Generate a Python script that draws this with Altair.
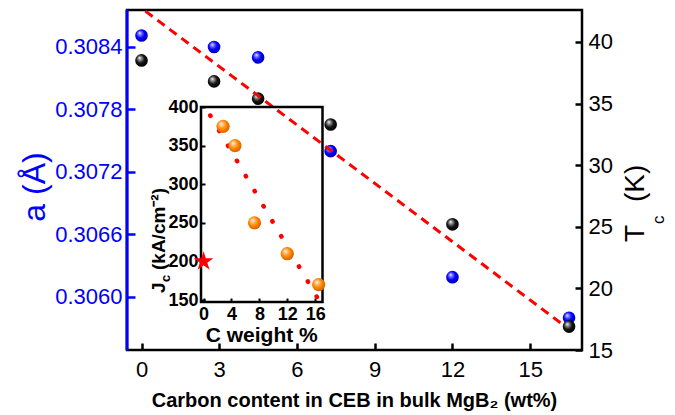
import altair as alt
import pandas as pd

# ---------------- data ----------------
carbon_wt = [0.0, 2.8, 4.5, 7.3, 12.0, 16.5]
lattice_a = [0.30851, 0.30840, 0.30830, 0.30740, 0.30619, 0.30580]
tc_k = [38.5, 36.8, 35.4, 33.3, 25.2, 16.9]
fit_carbon = [0.15, 16.3]
fit_tc = [42.5, 17.0]

inset_carbon = [2.8, 4.5, 7.3, 12.0, 16.5]
jc_vals = [375, 350, 250, 210, 170]
ref_carbon = [0.0]
ref_jc = [200]
inset_fit_carbon = [0.96, 16.25]
inset_fit_jc = [389, 154]

x_ticks = [0, 3, 6, 9, 12, 15]
a_ticks = [0.3060, 0.3066, 0.3072, 0.3078, 0.3084]
tc_ticks = [15, 20, 25, 30, 35, 40]
inset_x_ticks = [0, 4, 8, 12, 16]
inset_y_ticks = [150, 200, 250, 300, 350, 400]

x_domain = [-0.56, 17.0]
a_domain = [0.305491, 0.308755]
tc_domain = [15.0, 42.59]
inset_x_domain = [-0.37, 17.05]
inset_y_domain = [147.5, 400]

x_title = "Carbon content in CEB in bulk MgB₂ (wt%)"
a_title = "a (Å)"
tc_title = ["T", "c", "(K)"]
jc_title = ["J", "c", "(kA/cm⁻²)"]
inset_x_title = "C weight %"

# ---------------- layout ----------------
W, H = 455, 340
FONT = "Liberation Sans"
BLUE = "#0000ff"
RED = "#ff0000"

# inset placement inside the plot area (pixels)
inset_xr = [74, 195.5]
inset_yr = [292, 97]


def sphere(mid, body, dark):
    return alt.RadialGradient(
        gradient="radial",
        stops=[
            alt.GradientStop(color="#ffffff", offset=0),
            alt.GradientStop(color=mid, offset=0.2),
            alt.GradientStop(color=body, offset=0.55),
            alt.GradientStop(color=dark, offset=1),
        ],
        x1=0.35, y1=0.3, r1=0, x2=0.45, y2=0.45, r2=0.6,
    )


main_df = pd.DataFrame({"c": carbon_wt, "a": lattice_a, "tc": tc_k})
fit_df = pd.DataFrame({"c": fit_carbon, "tc": fit_tc})
inset_df = pd.DataFrame({"c": inset_carbon, "jc": jc_vals})
ref_df = pd.DataFrame({"c": ref_carbon, "jc": ref_jc})
ifit_df = pd.DataFrame({"c": inset_fit_carbon, "jc": inset_fit_jc})
frame_df = pd.DataFrame({"x0": [inset_x_domain[0]], "x1": [inset_x_domain[1]],
                         "y0": [inset_y_domain[0]], "y1": [inset_y_domain[1]]})

x_scale = alt.Scale(domain=x_domain, nice=False, zero=False)
x_axis = alt.Axis(orient="bottom", values=x_ticks, tickSize=7, offset=-7, tickWidth=2.5,
                  tickColor="black", labelFontSize=22, labelPadding=9, labelColor="black",
                  domain=False, grid=False, title=None, labelFont=FONT)
X = alt.X("c:Q", scale=x_scale, axis=x_axis)

a_axis = alt.Axis(orient="left", values=a_ticks, format=".4f", tickSize=8, offset=-8,
                  tickWidth=2.5, tickColor=BLUE, labelColor=BLUE, labelFontSize=22,
                  labelPadding=5, domain=False, grid=False, title=None, labelFont=FONT)
tc_axis = alt.Axis(orient="right", values=tc_ticks, tickSize=7, offset=-7, tickWidth=2.5,
                   tickColor="black", labelColor="black", labelFontSize=22, labelPadding=6,
                   domain=False, grid=False, title=None, labelFont=FONT)

a_pts = alt.Chart(main_df).mark_circle(
    size=160, opacity=1, fill=sphere("#8080ff", "#0000ff", "#0000b0")
).encode(X, y=alt.Y("a:Q", scale=alt.Scale(domain=a_domain, nice=False, zero=False), axis=a_axis))

tc_y = alt.Scale(domain=tc_domain, nice=False, zero=False)
tc_pts = alt.Chart(main_df).mark_circle(
    size=160, opacity=1, fill=sphere("#9a9a9a", "#151515", "#000000")
).encode(X, y=alt.Y("tc:Q", scale=tc_y, axis=tc_axis))
fit_line = alt.Chart(fit_df).mark_line(color=RED, strokeWidth=3, strokeDash=[9, 6]).encode(
    X, y=alt.Y("tc:Q", scale=tc_y, axis=tc_axis))

tc_layer = alt.layer(tc_pts, fit_line)
main = alt.layer(a_pts, tc_layer).resolve_scale(y="independent")

# ---------------- inset ----------------
ix_scale = alt.Scale(domain=inset_x_domain, range=inset_xr, nice=False, zero=False)
iy_scale = alt.Scale(domain=inset_y_domain, range=inset_yr, nice=False, zero=False)
ix_axis = alt.Axis(orient="bottom", values=inset_x_ticks, tickSize=4, offset=-(H - inset_yr[0] + 4),
                   tickWidth=2, tickColor="black", labelFontSize=18, labelFontWeight="bold",
                   labelPadding=3, domain=False, grid=False, title=None, labelFont=FONT,
                   labelColor="black")
iy_axis = alt.Axis(orient="left", values=inset_y_ticks, tickSize=4, offset=-(inset_xr[0] + 4),
                   tickWidth=2, tickColor="black", labelFontSize=18, labelFontWeight="bold",
                   labelPadding=3, domain=False, grid=False, title=None, labelFont=FONT,
                   labelColor="black")
IX = alt.X("c:Q", scale=ix_scale, axis=ix_axis)
IY = alt.Y("jc:Q", scale=iy_scale, axis=iy_axis)

frame = alt.Chart(frame_df).mark_rect(fillOpacity=0, stroke="black", strokeWidth=2.5).encode(
    x=alt.X("x0:Q", scale=ix_scale, axis=ix_axis), x2="x1:Q",
    y=alt.Y("y0:Q", scale=iy_scale, axis=iy_axis), y2="y1:Q")
ifit = alt.Chart(ifit_df).mark_line(color=RED, strokeWidth=4.5, strokeDash=[0.5, 17],
                                    strokeCap="round").encode(IX, IY)
jc_pts = alt.Chart(inset_df).mark_circle(
    size=175, opacity=1, fill=sphere("#ffc890", "#ff8a00", "#d05a00")).encode(IX, IY)
star_path = ("M0,-1L0.2245,-0.309L0.951,-0.309L0.363,0.118L0.588,0.809L0,0.382"
             "L-0.588,0.809L-0.363,0.118L-0.951,-0.309L-0.2245,-0.309Z")
star = alt.Chart(ref_df).mark_point(shape=star_path, filled=True, color=RED, opacity=1,
                                    size=420).encode(IX, IY)
inset = alt.layer(frame, ifit, jc_pts, star)

# ---------------- titles (real text) ----------------
def txt(s, x, y, size, color="black", weight="normal", angle=0, align="left",
        baseline="alphabetic"):
    return alt.Chart(pd.DataFrame({"t": [s]})).mark_text(
        fontSize=size, font=FONT, color=color, fontWeight=weight, angle=angle,
        align=align, baseline=baseline).encode(text="t:N", x=alt.value(x), y=alt.value(y))

spine = alt.Chart(pd.DataFrame({"v": [0]})).mark_rule(color=BLUE, strokeWidth=3).encode(
    x=alt.value(0), y=alt.value(0), y2=alt.value(H))

titles = [
    txt(x_title, W / 2, 397, 20, weight="bold", align="center"),
    txt(a_title, -92, 177, 32, color=BLUE, angle=270, align="center", baseline="middle"),
    txt(tc_title[0], 517, 232, 28, angle=270),
    txt(tc_title[1], 537, 214, 17, angle=270),
    txt(tc_title[2], 517, 192, 28, angle=270),
    txt(jc_title[0], 38, 283, 19, weight="bold", angle=270),
    txt(jc_title[1], 43, 272, 13, weight="bold", angle=270),
    txt(jc_title[2], 38, 260, 19, weight="bold", angle=270),
    txt(inset_x_title, (inset_xr[0] + inset_xr[1]) / 2, 332, 21, weight="bold", align="center"),
]

chart = alt.layer(main, inset, spine, *titles).resolve_scale(
    x="independent", y="independent"
).properties(
    width=W, height=H,
    autosize=alt.AutoSizeParams(type="none"),
    padding={"left": 119, "top": 2, "right": 85, "bottom": 63},
).configure(font=FONT).configure_view(stroke="black", strokeWidth=2.5)

chart.save("out.html", embed_options={"renderer": "svg", "actions": False})
